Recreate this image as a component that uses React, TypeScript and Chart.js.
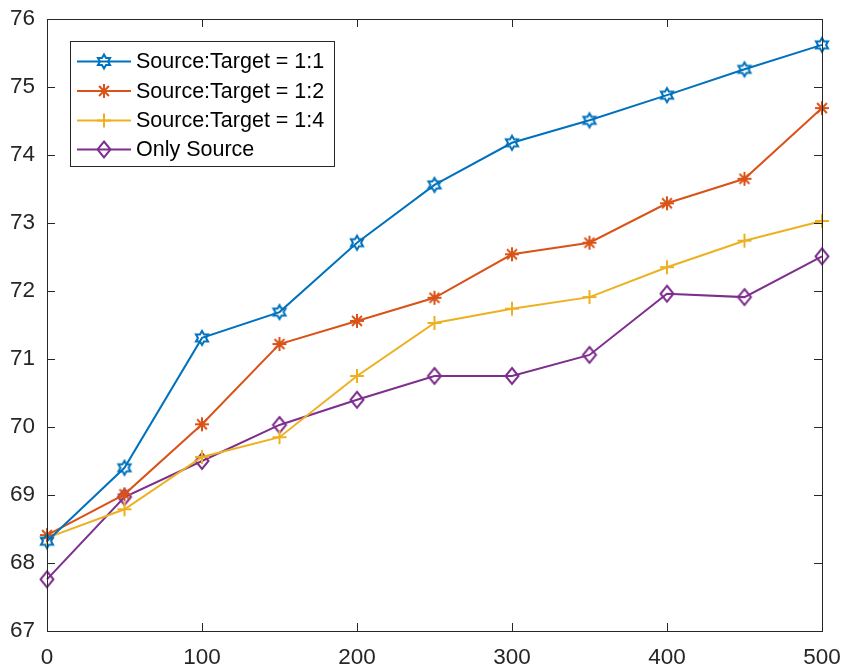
import React, { useEffect, useRef } from "react";
import { Chart, registerables } from "chart.js";

Chart.register(...registerables);

const xValues = [0, 50, 100, 150, 200, 250, 300, 350, 400, 450, 500];
const ratio11 = [68.32, 69.4, 71.31, 71.69, 72.71, 73.56, 74.18, 74.51, 74.88, 75.26, 75.62];
const ratio12 = [68.41, 69.01, 70.04, 71.22, 71.56, 71.9, 72.54, 72.71, 73.29, 73.65, 74.69];
const ratio14 = [68.37, 68.79, 69.56, 69.85, 70.75, 71.53, 71.74, 71.91, 72.35, 72.74, 73.03];
const onlySource = [67.76, 68.97, 69.5, 70.03, 70.4, 70.75, 70.75, 71.06, 71.96, 71.91, 72.51];
const seriesLabels = ["Source:Target = 1:1", "Source:Target = 1:2", "Source:Target = 1:4", "Only Source"];
const colors = ["#0072BD", "#D95319", "#EDB120", "#7E2F8E"];
const xTicks = [0, 100, 200, 300, 400, 500];
const yTicks = [67, 68, 69, 70, 71, 72, 73, 74, 75, 76];

const FONT = "Helvetica, Arial, 'Liberation Sans', sans-serif";

function drawHexagram(ctx: CanvasRenderingContext2D, cx: number, cy: number, R: number) {
  const r = R / Math.sqrt(3);
  ctx.beginPath();
  for (let i = 0; i < 12; i++) {
    const ang = -Math.PI / 2 + (i * Math.PI) / 6;
    const rad = i % 2 === 0 ? R : r;
    const px = cx + rad * Math.cos(ang);
    const py = cy + rad * Math.sin(ang);
    if (i === 0) ctx.moveTo(px, py);
    else ctx.lineTo(px, py);
  }
  ctx.closePath();
  ctx.stroke();
}

function drawMarker(ctx: CanvasRenderingContext2D, kind: number, x: number, y: number, color: string) {
  ctx.save();
  ctx.strokeStyle = color;
  ctx.lineWidth = 2;
  ctx.lineJoin = "miter";
  if (kind === 0) {
    drawHexagram(ctx, x, y, 7);
  } else if (kind === 1) {
    const r = 7;
    ctx.beginPath();
    for (let i = 0; i < 4; i++) {
      const a = (i * Math.PI) / 4;
      ctx.moveTo(x - r * Math.cos(a), y - r * Math.sin(a));
      ctx.lineTo(x + r * Math.cos(a), y + r * Math.sin(a));
    }
    ctx.stroke();
  } else if (kind === 2) {
    const r = 7;
    ctx.beginPath();
    ctx.moveTo(x - r, y);
    ctx.lineTo(x + r, y);
    ctx.moveTo(x, y - r);
    ctx.lineTo(x, y + r);
    ctx.stroke();
  } else {
    const rw = 6.5, rh = 8;
    ctx.beginPath();
    ctx.moveTo(x, y - rh);
    ctx.lineTo(x + rw, y);
    ctx.lineTo(x, y + rh);
    ctx.lineTo(x - rw, y);
    ctx.closePath();
    ctx.stroke();
  }
  ctx.restore();
}

function makeMarkerCanvas(kind: number, color: string): HTMLCanvasElement {
  const c = document.createElement("canvas");
  c.width = 22;
  c.height = 22;
  const ctx = c.getContext("2d")!;
  drawMarker(ctx, kind, 11, 11, color);
  return c;
}

const framePlugin = {
  id: "matlabFrame",
  afterDatasetsDraw(chart: any) {
    const { ctx, chartArea } = chart;
    const { left, right, top, bottom } = chartArea;
    const xs = chart.scales.x;
    const ys = chart.scales.y;
    ctx.save();
    ctx.strokeStyle = "#262626";
    ctx.lineWidth = 1;
    ctx.strokeRect(Math.round(left) + 0.5, Math.round(top) + 0.5, Math.round(right - left), Math.round(bottom - top));
    const tl = 8;
    ctx.beginPath();
    for (const v of xTicks) {
      const px = Math.round(xs.getPixelForValue(v)) + 0.5;
      ctx.moveTo(px, bottom);
      ctx.lineTo(px, bottom - tl);
      ctx.moveTo(px, top);
      ctx.lineTo(px, top + tl);
    }
    for (const v of yTicks) {
      const py = Math.round(ys.getPixelForValue(v)) + 0.5;
      ctx.moveTo(left, py);
      ctx.lineTo(left + tl, py);
      ctx.moveTo(right, py);
      ctx.lineTo(right - tl, py);
    }
    ctx.stroke();
    ctx.restore();
  },
  afterDraw(chart: any) {
    const { ctx } = chart;
    const bx = 70, by = 41, bw = 264, bh = 125;
    ctx.save();
    ctx.fillStyle = "#ffffff";
    ctx.fillRect(bx, by, bw, bh);
    ctx.strokeStyle = "#262626";
    ctx.lineWidth = 1;
    ctx.strokeRect(bx + 0.5, by + 0.5, bw, bh);
    const rows = [61.5, 91, 120.5, 149.5];
    ctx.font = `21.5px ${FONT}`;
    ctx.textBaseline = "middle";
    ctx.textAlign = "left";
    for (let i = 0; i < 4; i++) {
      const y = rows[i];
      ctx.strokeStyle = colors[i];
      ctx.lineWidth = 2;
      ctx.beginPath();
      ctx.moveTo(77, y);
      ctx.lineTo(131, y);
      ctx.stroke();
      drawMarker(ctx, i, 104, y, colors[i]);
      ctx.fillStyle = "#000000";
      ctx.fillText(seriesLabels[i], 136, y + 1);
    }
    ctx.restore();
  },
};

export default function App() {
  const ref = useRef<HTMLCanvasElement | null>(null);
  useEffect(() => {
    if (!ref.current) return;
    const data = [ratio11, ratio12, ratio14, onlySource];
    const chart = new Chart(ref.current, {
      type: "line",
      data: {
        datasets: data.map((arr, i) => ({
          label: seriesLabels[i],
          data: arr.map((v, j) => ({ x: xValues[j], y: v })),
          borderColor: colors[i],
          backgroundColor: "rgba(0,0,0,0)",
          pointBackgroundColor: "rgba(0,0,0,0)",
          pointBorderColor: colors[i],
          borderWidth: 2,
          pointStyle: makeMarkerCanvas(i, colors[i]) as any,
          pointRadius: 8,
          tension: 0,
          clip: false as any,
        })),
      },
      options: {
        animation: false,
        responsive: false,
        maintainAspectRatio: false,
        layout: { padding: { top: 19, right: 22, left: 0, bottom: 0 } },
        plugins: { legend: { display: false }, tooltip: { enabled: false } },
        scales: {
          x: {
            type: "linear",
            min: 0,
            max: 500,
            afterBuildTicks: (s: any) => {
              s.ticks = xTicks.map((v) => ({ value: v }));
            },
            afterFit: (s: any) => {
              s.height = 37;
              s.paddingLeft = 0;
              s.paddingRight = 0;
            },
            grid: { display: false, drawTicks: false },
            border: { display: false },
            ticks: {
              color: "#262626",
              font: { size: 22.5, family: FONT },
              padding: 13,
              maxRotation: 0,
            },
          },
          y: {
            type: "linear",
            min: 67,
            max: 76,
            afterBuildTicks: (s: any) => {
              s.ticks = yTicks.map((v) => ({ value: v }));
            },
            afterFit: (s: any) => {
              s.width = 47;
              s.paddingTop = 0;
              s.paddingBottom = 0;
            },
            grid: { display: false, drawTicks: false },
            border: { display: false },
            ticks: {
              color: "#262626",
              font: { size: 22.5, family: FONT },
              padding: 12,
            },
          },
        },
      },
      plugins: [framePlugin],
    });
    return () => chart.destroy();
  }, []);
  return (
    <div style={{ position: "absolute", left: 0, top: 0, width: 844, height: 668, background: "#fff" }}>
      <canvas ref={ref} width={844} height={668} style={{ width: 844, height: 668, display: "block" }} />
    </div>
  );
}
